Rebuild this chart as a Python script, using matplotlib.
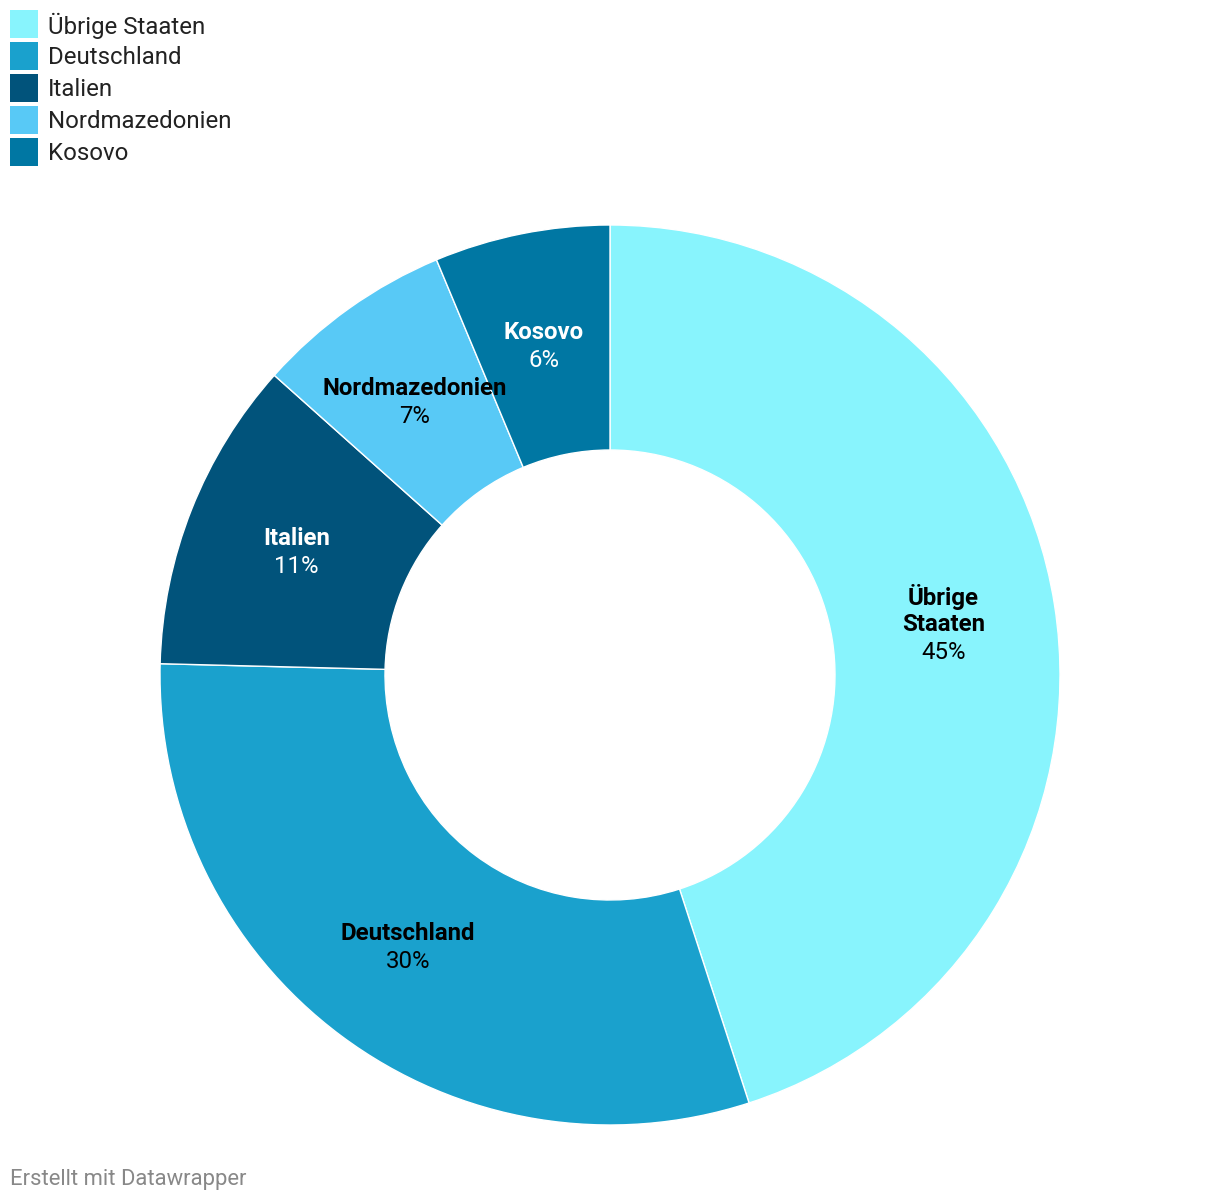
import numpy as np
import matplotlib.pyplot as plt
from matplotlib.patches import Rectangle

plt.rcParams['font.family'] = ['Roboto', 'DejaVu Sans']

labels = ['Übrige Staaten', 'Deutschland', 'Italien', 'Nordmazedonien', 'Kosovo']
label_lines = ['Übrige\nStaaten', 'Deutschland', 'Italien', 'Nordmazedonien', 'Kosovo']
values = [45.0, 30.4, 11.2, 7.1, 6.3]
shown_pct = ['45%', '30%', '11%', '7%', '6%']
colors = ['#88f4fd', '#1aa1cd', '#01537b', '#58c9f6', '#0077a3']
text_colors = ['black', 'black', 'white', 'black', 'white']

W, H = 1220, 1202
fig = plt.figure(figsize=(W / 100, H / 100), dpi=100)
ax = fig.add_axes([0, 0, 1, 1])

cx, cy, R = 610, H - 675, 450
wedges, _ = ax.pie(values, colors=colors, startangle=90, counterclock=False,
                   center=(cx, cy), radius=R,
                   wedgeprops=dict(width=R / 2, edgecolor='white', linewidth=1))
ax.set_xlim(0, W)
ax.set_ylim(0, H)
ax.set_aspect('equal')
ax.axis('off')

# labels in the middle of each ring segment
rmid = R * 0.75
line_h = 28
fs = 17.3
for w, name, pct, tc in zip(wedges, label_lines, shown_pct, text_colors):
    ang = np.deg2rad((w.theta1 + w.theta2) / 2)
    x = cx + rmid * np.cos(ang)
    y = cy + rmid * np.sin(ang) - 2
    n = name.count('\n') + 1
    top = y + n * line_h / 2
    ax.text(x, top - (n - 1) * line_h / 2, name, ha='center', va='center',
            fontsize=fs, fontweight='bold', color=tc, linespacing=1.15)
    ax.text(x, top - n * line_h, pct, ha='center', va='center',
            fontsize=fs, color=tc)

# legend
for i, (lab, col) in enumerate(zip(labels, colors)):
    ytop = 10 + i * 32
    ax.add_patch(Rectangle((10, H - ytop - 28), 28, 28, facecolor=col, edgecolor='none'))
    ax.text(48, H - ytop - 15.5, lab, ha='left', va='center', fontsize=fs, color='#222222')

ax.text(10, H - 1180, 'Erstellt mit Datawrapper', ha='left', va='center',
        fontsize=15.8, color='#888888')

fig.savefig('out.png', dpi=100, facecolor='white')
